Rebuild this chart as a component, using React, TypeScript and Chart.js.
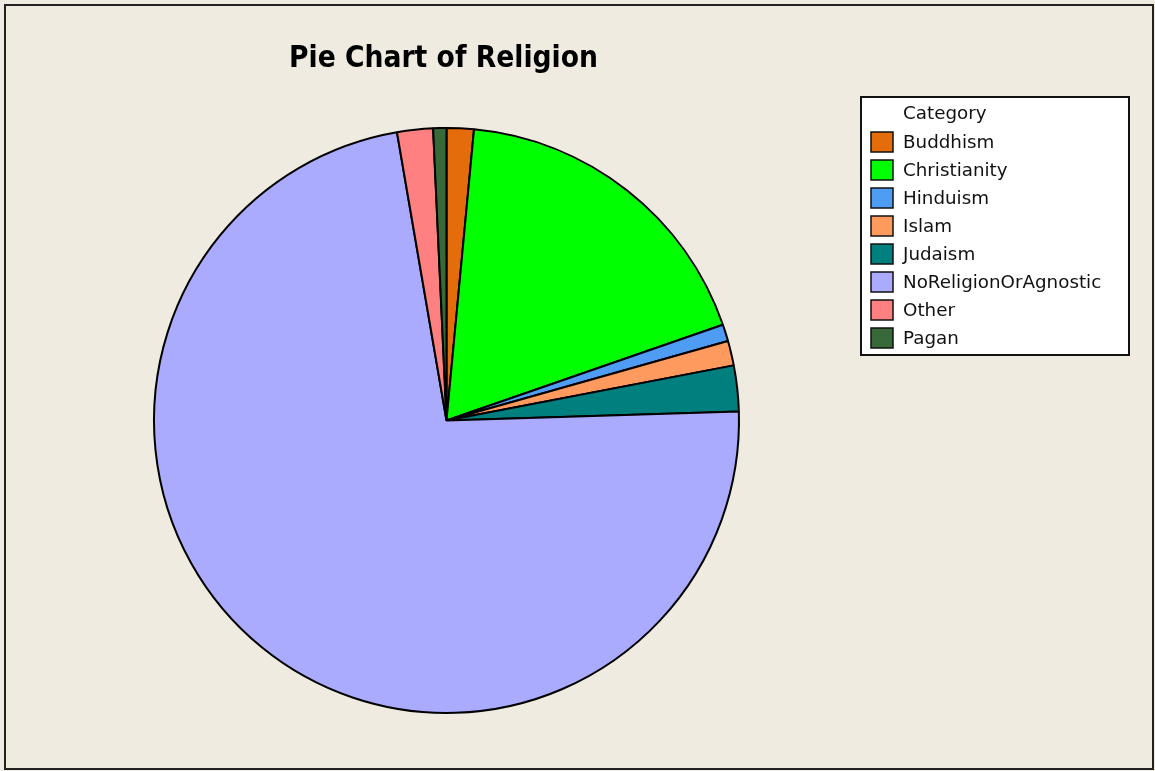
import React, { useEffect, useRef } from "react";
import { Chart, registerables } from "chart.js";

Chart.register(...registerables);

const categories = [
  "Buddhism",
  "Christianity",
  "Hinduism",
  "Islam",
  "Judaism",
  "NoReligionOrAgnostic",
  "Other",
  "Pagan",
];
const shares = [1.5, 18.2, 0.93, 1.36, 2.53, 72.8, 1.98, 0.73];
const colors = [
  "#E46C0A",
  "#00FF00",
  "#4F9CF5",
  "#FF9A5E",
  "#007F7F",
  "#AAAAFF",
  "#FF8080",
  "#386938",
];
const titleText = "Pie Chart of Religion";
const legendTitle = "Category";

const BG = "#EFEBE0";

const decorPlugin = {
  id: "decor",
  beforeDraw(chart: any) {
    const ctx = chart.ctx as CanvasRenderingContext2D;
    ctx.save();
    ctx.fillStyle = BG;
    ctx.fillRect(0, 0, chart.width, chart.height);
    ctx.strokeStyle = "#222";
    ctx.lineWidth = 2;
    ctx.strokeRect(5, 5, 1148, 764);
    // title
    ctx.fillStyle = "#000";
    ctx.font = "bold 29.6px 'DejaVu Sans Condensed', 'DejaVu Sans', sans-serif";
    ctx.textAlign = "center";
    ctx.textBaseline = "middle";
    ctx.fillText(titleText, 443.5, 59);
    ctx.restore();
  },
  afterDraw(chart: any) {
    const ctx = chart.ctx as CanvasRenderingContext2D;
    const ds = chart.data.datasets[0];
    const labels = chart.data.labels as string[];
    ctx.save();
    ctx.fillStyle = "#FFFFFF";
    ctx.fillRect(861, 97, 268, 258);
    ctx.strokeStyle = "#111";
    ctx.lineWidth = 2;
    ctx.strokeRect(861, 97, 268, 258);
    ctx.font = "18.3px 'DejaVu Sans', sans-serif";
    ctx.textAlign = "left";
    ctx.textBaseline = "middle";
    ctx.fillStyle = "#111";
    ctx.fillText(legendTitle, 903, 114);
    labels.forEach((lab, i) => {
      const cy = 142 + i * 28;
      ctx.fillStyle = ds.backgroundColor[i];
      ctx.fillRect(871, cy - 10, 22, 20);
      ctx.strokeStyle = "#111";
      ctx.lineWidth = 1.5;
      ctx.strokeRect(871, cy - 10, 22, 20);
      ctx.fillStyle = "#111";
      ctx.fillText(lab, 903, cy + 1);
    });
    ctx.restore();
  },
};

export default function App() {
  const ref = useRef<HTMLCanvasElement | null>(null);
  useEffect(() => {
    if (!ref.current) return;
    const chart = new Chart(ref.current, {
      type: "pie",
      data: {
        labels: categories,
        datasets: [
          {
            data: shares,
            backgroundColor: colors,
            borderColor: "#000",
            borderWidth: 2,
          },
        ],
      },
      options: {
        responsive: false,
        animation: false,
        radius: 292.5,
        layout: { padding: { left: 146.5, right: 408.5, top: 120.5, bottom: 50.5 } },
        plugins: {
          legend: { display: false },
          title: { display: false },
          tooltip: { enabled: false },
        },
      } as any,
      plugins: [decorPlugin],
    });
    return () => chart.destroy();
  }, []);
  return (
    <div style={{ position: "absolute", left: 0, top: 0, width: 1155, height: 771 }}>
      <canvas ref={ref} width={1155} height={771} style={{ display: "block" }} />
    </div>
  );
}
